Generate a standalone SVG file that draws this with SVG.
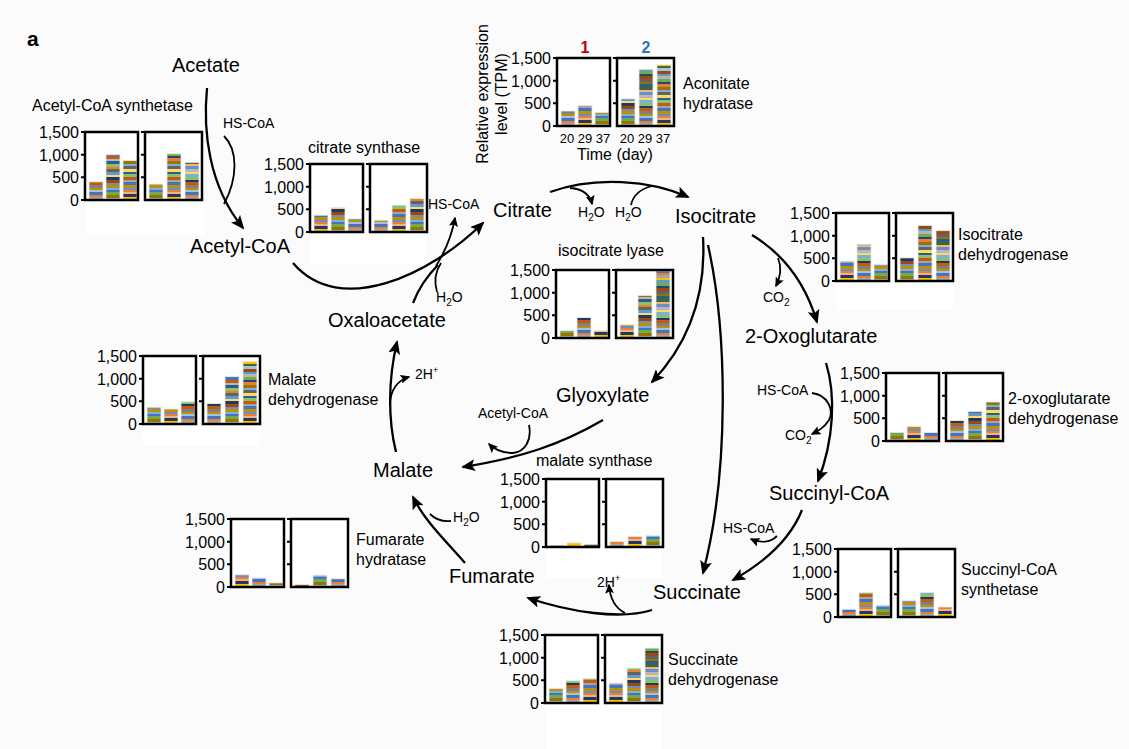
<svg xmlns="http://www.w3.org/2000/svg" xmlns:xlink="http://www.w3.org/1999/xlink" width="1129" height="749" viewBox="0 0 1129 749">
<style>
text{font-family:"Liberation Sans",Arial,sans-serif;fill:#000}
.m{font-size:20px}
.s{font-size:14px}
.l{font-size:16px}
.tk{font-size:16px;text-anchor:end}
.ax{font-size:13px;text-anchor:middle}
.panel{fill:none;stroke:#000;stroke-width:2.5}
.tick{fill:none;stroke:#000;stroke-width:2}
.wb{fill:#fff}
.a,.b,.c,.bar{stroke:#e8e8e8;stroke-width:0.8}
.a{fill:url(#pA)}.b{fill:url(#pB)}.c{fill:url(#pC)}
.cn{fill:none;stroke:#000;stroke-width:2.3}
.cm{marker-end:url(#ah)}
.cs{fill:none;stroke:#000;stroke-width:1.8}
.csm{marker-end:url(#ahs)}
</style>
<defs>
<marker id="ah" viewBox="0 0 14 12" refX="12" refY="6" markerWidth="14" markerHeight="12" markerUnits="userSpaceOnUse" orient="auto"><path d="M0,0 L14,6 L0,12 L3,6 z" fill="#000"/></marker>
<marker id="ahs" viewBox="0 0 10 9" refX="8.5" refY="4.5" markerWidth="10" markerHeight="9" markerUnits="userSpaceOnUse" orient="auto"><path d="M0,0 L10,4.5 L0,9 L2,4.5 z" fill="#000"/></marker>
<pattern id="pA" patternUnits="userSpaceOnUse" width="20" height="60">
<rect y="0" width="20" height="3" fill="#4472c4"/><rect y="3" width="20" height="2" fill="#ed7d31"/><rect y="5" width="20" height="3" fill="#a5a5a5"/><rect y="8" width="20" height="2" fill="#ffc000"/><rect y="10" width="20" height="3" fill="#5b9bd5"/><rect y="13" width="20" height="3" fill="#70ad47"/><rect y="16" width="20" height="2" fill="#264478"/><rect y="18" width="20" height="3" fill="#9e480e"/><rect y="21" width="20" height="3" fill="#636363"/><rect y="24" width="20" height="2" fill="#997300"/><rect y="26" width="20" height="3" fill="#255e91"/><rect y="29" width="20" height="3" fill="#43682b"/><rect y="32" width="20" height="2" fill="#f4b183"/><rect y="34" width="20" height="3" fill="#698ed0"/><rect y="37" width="20" height="3" fill="#b7b7b7"/><rect y="40" width="20" height="2" fill="#ffd966"/><rect y="42" width="20" height="3" fill="#7cafdd"/><rect y="45" width="20" height="3" fill="#8cc168"/><rect y="48" width="20" height="2" fill="#1f3864"/><rect y="50" width="20" height="3" fill="#c55a11"/><rect y="53" width="20" height="3" fill="#808080"/><rect y="56" width="20" height="2" fill="#bf9000"/><rect y="58" width="20" height="2" fill="#9dc3e6"/>
</pattern>
<pattern id="pB" patternUnits="userSpaceOnUse" width="20" height="60">
<rect y="0" width="20" height="3" fill="#70ad47"/><rect y="3" width="20" height="3" fill="#997300"/><rect y="6" width="20" height="2" fill="#9dc3e6"/><rect y="8" width="20" height="3" fill="#264478"/><rect y="11" width="20" height="2" fill="#f4b183"/><rect y="13" width="20" height="3" fill="#a5a5a5"/><rect y="16" width="20" height="3" fill="#43682b"/><rect y="19" width="20" height="2" fill="#ffc000"/><rect y="21" width="20" height="3" fill="#4472c4"/><rect y="24" width="20" height="3" fill="#c55a11"/><rect y="27" width="20" height="2" fill="#b7b7b7"/><rect y="29" width="20" height="3" fill="#255e91"/><rect y="32" width="20" height="3" fill="#8cc168"/><rect y="35" width="20" height="2" fill="#ed7d31"/><rect y="37" width="20" height="3" fill="#636363"/><rect y="40" width="20" height="3" fill="#5b9bd5"/><rect y="43" width="20" height="2" fill="#ffd966"/><rect y="45" width="20" height="3" fill="#1f3864"/><rect y="48" width="20" height="3" fill="#9e480e"/><rect y="51" width="20" height="2" fill="#698ed0"/><rect y="53" width="20" height="3" fill="#bf9000"/><rect y="56" width="20" height="2" fill="#7cafdd"/><rect y="58" width="20" height="2" fill="#4472c4"/>
</pattern>
<pattern id="pC" patternUnits="userSpaceOnUse" width="20" height="60">
<rect y="0" width="20" height="2" fill="#f4b183"/><rect y="2" width="20" height="3" fill="#1f3864"/><rect y="5" width="20" height="3" fill="#ffc000"/><rect y="8" width="20" height="2" fill="#43682b"/><rect y="10" width="20" height="3" fill="#9dc3e6"/><rect y="13" width="20" height="3" fill="#9e480e"/><rect y="16" width="20" height="2" fill="#5b9bd5"/><rect y="18" width="20" height="3" fill="#b7b7b7"/><rect y="21" width="20" height="3" fill="#70ad47"/><rect y="24" width="20" height="2" fill="#264478"/><rect y="26" width="20" height="3" fill="#ed7d31"/><rect y="29" width="20" height="3" fill="#997300"/><rect y="32" width="20" height="2" fill="#7cafdd"/><rect y="34" width="20" height="3" fill="#636363"/><rect y="37" width="20" height="3" fill="#ffd966"/><rect y="40" width="20" height="2" fill="#255e91"/><rect y="42" width="20" height="3" fill="#8cc168"/><rect y="45" width="20" height="3" fill="#c55a11"/><rect y="48" width="20" height="2" fill="#a5a5a5"/><rect y="50" width="20" height="3" fill="#4472c4"/><rect y="53" width="20" height="3" fill="#bf9000"/><rect y="56" width="20" height="2" fill="#698ed0"/><rect y="58" width="20" height="2" fill="#ed7d31"/>
</pattern>
<g id="frame">
<rect class="panel" x="0" y="0" width="53" height="68"/>
<rect class="panel" x="60" y="0" width="57" height="68"/>
<path class="tick" d="M-4,0H0M-4,22.67H0M-4,45.33H0M-4,68H0M56,0H60M56,22.67H60M56,45.33H60"/>
<text class="tk" x="-6" y="6">1,500</text>
<text class="tk" x="-6" y="28.7">1,000</text>
<text class="tk" x="-6" y="51.3">500</text>
<text class="tk" x="-6" y="74">0</text>
</g>
</defs>

<rect x="0" y="0" width="1129" height="749" fill="#fbfbfb"/>

<text x="27" y="46" style="font-size:21px;font-weight:bold">a</text>

<!-- Charts -->
<g id="chart-acetylcoa-synthetase">
<text class="l" x="32" y="111">Acetyl-CoA synthetase</text>
<g transform="translate(85,132)">
<rect class="wb" x="0" y="0" width="119" height="103"/>
<rect class="a" x="4" y="49.9" width="14" height="18.1"/>
<rect class="b" x="21" y="22.7" width="14" height="45.3"/>
<rect class="c" x="38" y="28.6" width="14" height="39.4"/>
<rect class="b" x="64" y="52.1" width="14" height="15.9"/>
<rect class="c" x="82" y="21.8" width="14" height="46.2"/>
<rect class="a" x="100" y="30.4" width="14" height="37.6"/>
<use href="#frame" xlink:href="#frame"/>
</g>
</g>

<g id="chart-citrate-synthase">
<text class="l" x="308" y="153">citrate synthase</text>
<g transform="translate(310,164)">
<rect class="wb" x="0" y="0" width="117" height="100"/>
<rect class="c" x="4" y="51.2" width="14" height="16.8"/>
<rect class="b" x="21" y="43.5" width="14" height="24.5"/>
<rect class="a" x="38" y="54.9" width="14" height="13.1"/>
<rect class="a" x="64" y="56.2" width="14" height="11.8"/>
<rect class="c" x="82" y="41.3" width="14" height="26.7"/>
<rect class="b" x="100" y="34.5" width="14" height="33.5"/>
<use href="#frame" xlink:href="#frame"/>
</g>
</g>

<g id="chart-aconitate-hydratase">
<text x="585" y="53" text-anchor="middle" style="font-size:16px;font-weight:bold;fill:#c00000">1</text>
<text x="646" y="53" text-anchor="middle" style="font-size:16px;font-weight:bold;fill:#2e75b6">2</text>
<text class="l" text-anchor="middle" transform="translate(488,94) rotate(-90)">Relative expression</text>
<text class="l" text-anchor="middle" transform="translate(507,94) rotate(-90)">level (TPM)</text>
<g transform="translate(557,58)">
<rect class="wb" x="0" y="0" width="117" height="68"/>
<rect class="a" x="4" y="53" width="14" height="15"/>
<rect class="c" x="21" y="47.6" width="14" height="20.4"/>
<rect class="b" x="38" y="54.4" width="14" height="13.6"/>
<rect class="b" x="64" y="40.8" width="14" height="27.2"/>
<rect class="a" x="82" y="11.3" width="14" height="56.7"/>
<rect class="c" x="100" y="6.8" width="14" height="61.2"/>
<use href="#frame" xlink:href="#frame"/>
<text class="ax" x="10" y="85">20</text>
<text class="ax" x="28" y="85">29</text>
<text class="ax" x="46" y="85">37</text>
<text class="ax" x="70" y="85">20</text>
<text class="ax" x="88" y="85">29</text>
<text class="ax" x="106" y="85">37</text>
</g>
<text class="l" x="577" y="160">Time (day)</text>
<text class="l" x="683" y="89">Aconitate</text>
<text class="l" x="683" y="109">hydratase</text>
</g>

<g id="chart-isocitrate-lyase">
<text class="l" x="558" y="256">isocitrate lyase</text>
<g transform="translate(556,270)">
<rect class="wb" x="0" y="0" width="117" height="68"/>
<rect class="b" x="4" y="60.7" width="14" height="7.3"/>
<rect class="a" x="21" y="47.6" width="14" height="20.4"/>
<rect class="c" x="38" y="60.7" width="14" height="7.3"/>
<rect class="c" x="64" y="54.9" width="14" height="13.1"/>
<rect class="b" x="82" y="25.4" width="14" height="42.6"/>
<rect class="a" x="100" y="0.9" width="14" height="67.1"/>
<use href="#frame" xlink:href="#frame"/>
</g>
</g>

<g id="chart-isocitrate-dehydrogenase">
<g transform="translate(836,213)">
<rect class="wb" x="0" y="0" width="117" height="97"/>
<rect class="c" x="4" y="48.1" width="14" height="19.9"/>
<rect class="a" x="21" y="31.3" width="14" height="36.7"/>
<rect class="b" x="38" y="51.7" width="14" height="16.3"/>
<rect class="b" x="64" y="44.9" width="14" height="23.1"/>
<rect class="c" x="82" y="12.2" width="14" height="55.8"/>
<rect class="a" x="100" y="17.7" width="14" height="50.3"/>
<use href="#frame" xlink:href="#frame"/>
</g>
<text class="l" x="958" y="240">Isocitrate</text>
<text class="l" x="958" y="260">dehydrogenase</text>
</g>

<g id="chart-malate-dehydrogenase">
<g transform="translate(143,356)">
<rect class="wb" x="0" y="0" width="117" height="90"/>
<rect class="b" x="4" y="51.2" width="14" height="16.8"/>
<rect class="c" x="21" y="53" width="14" height="15"/>
<rect class="a" x="38" y="45.8" width="14" height="22.2"/>
<rect class="a" x="64" y="47.6" width="14" height="20.4"/>
<rect class="b" x="82" y="20.4" width="14" height="47.6"/>
<rect class="c" x="100" y="5.4" width="14" height="62.6"/>
<use href="#frame" xlink:href="#frame"/>
</g>
<text class="l" x="268" y="385">Malate</text>
<text class="l" x="268" y="405">dehydrogenase</text>
</g>

<g id="chart-2-oxoglutarate-dehydrogenase">
<g transform="translate(886,373)">
<rect class="wb" x="0" y="0" width="117" height="68"/>
<rect class="b" x="4" y="59.4" width="14" height="8.6"/>
<rect class="c" x="21" y="53.5" width="14" height="14.5"/>
<rect class="a" x="38" y="59.4" width="14" height="8.6"/>
<rect class="a" x="64" y="47.6" width="14" height="20.4"/>
<rect class="b" x="82" y="38.5" width="14" height="29.5"/>
<rect class="c" x="100" y="29" width="14" height="39"/>
<use href="#frame" xlink:href="#frame"/>
</g>
<text class="l" x="1008" y="404">2-oxoglutarate</text>
<text class="l" x="1008" y="424">dehydrogenase</text>
</g>

<g id="chart-malate-synthase">
<text class="l" x="536" y="466">malate synthase</text>
<g transform="translate(546,479)">
<rect class="wb" x="0" y="0" width="117" height="99"/>
<rect class="bar" x="4" y="66.2" width="14" height="1.8" fill="#70ad47"/>
<rect class="bar" x="21" y="63.9" width="14" height="4.1" fill="#ffc000"/>
<rect class="bar" x="38" y="65.3" width="14" height="2.7" fill="#43682b"/>
<rect class="a" x="64" y="62.6" width="14" height="5.4"/>
<rect class="c" x="82" y="57.6" width="14" height="10.4"/>
<rect class="b" x="100" y="56.7" width="14" height="11.3"/>
<use href="#frame" xlink:href="#frame"/>
</g>
</g>

<g id="chart-fumarate-hydratase">
<g transform="translate(231,519)">
<rect class="wb" x="0" y="0" width="117" height="68"/>
<rect class="c" x="4" y="55.8" width="14" height="12.2"/>
<rect class="a" x="21" y="58.9" width="14" height="9.1"/>
<rect class="b" x="38" y="63.9" width="14" height="4.1"/>
<rect class="bar" x="64" y="65.7" width="14" height="2.3" fill="#9e480e"/>
<rect class="b" x="82" y="56.2" width="14" height="11.8"/>
<rect class="a" x="100" y="59.8" width="14" height="8.2"/>
<use href="#frame" xlink:href="#frame"/>
</g>
<text class="l" x="356" y="545">Fumarate</text>
<text class="l" x="356" y="565">hydratase</text>
</g>

<g id="chart-succinyl-coa-synthetase">
<g transform="translate(838,549)">
<rect class="wb" x="0" y="0" width="117" height="68"/>
<rect class="a" x="4" y="60.3" width="14" height="7.7"/>
<rect class="c" x="21" y="43.5" width="14" height="24.5"/>
<rect class="b" x="38" y="56.2" width="14" height="11.8"/>
<rect class="b" x="64" y="51.7" width="14" height="16.3"/>
<rect class="a" x="82" y="43.5" width="14" height="24.5"/>
<rect class="c" x="100" y="58" width="14" height="10"/>
<use href="#frame" xlink:href="#frame"/>
</g>
<text class="l" x="961" y="575">Succinyl-CoA</text>
<text class="l" x="961" y="595">synthetase</text>
</g>

<g id="chart-succinate-dehydrogenase">
<g transform="translate(545,635)">
<rect class="wb" x="0" y="0" width="117" height="114"/>
<rect class="b" x="4" y="53.5" width="14" height="14.5"/>
<rect class="a" x="21" y="45.8" width="14" height="22.2"/>
<rect class="c" x="38" y="43.5" width="14" height="24.5"/>
<rect class="c" x="64" y="48.1" width="14" height="19.9"/>
<rect class="b" x="82" y="33.1" width="14" height="34.9"/>
<rect class="a" x="100" y="13.1" width="14" height="54.9"/>
<use href="#frame" xlink:href="#frame"/>
</g>
<text class="l" x="668" y="665">Succinate</text>
<text class="l" x="668" y="685">dehydrogenase</text>
</g>

<!-- Metabolite nodes -->
<g id="acetate"><text class="m" x="172" y="72">Acetate</text></g>
<g id="acetyl-coa"><text class="m" x="190" y="253">Acetyl-CoA</text></g>
<g id="citrate"><text class="m" x="493" y="217">Citrate</text></g>
<g id="isocitrate"><text class="m" x="675" y="223">Isocitrate</text></g>
<g id="oxaloacetate"><text class="m" x="328" y="327">Oxaloacetate</text></g>
<g id="oxoglutarate"><text class="m" x="745" y="343">2-Oxoglutarate</text></g>
<g id="glyoxylate"><text class="m" x="556" y="402">Glyoxylate</text></g>
<g id="malate"><text class="m" x="373" y="477">Malate</text></g>
<g id="succinyl-coa"><text class="m" x="769" y="500">Succinyl-CoA</text></g>
<g id="fumarate"><text class="m" x="449" y="583">Fumarate</text></g>
<g id="succinate"><text class="m" x="653" y="599">Succinate</text></g>

<!-- Cofactor labels -->
<g id="cofactors">
<text class="s" x="223" y="128">HS-CoA</text>
<text class="s" x="428" y="209">HS-CoA</text>
<text class="s" x="578" y="217">H<tspan dy="4" font-size="10">2</tspan><tspan dy="-4">O</tspan></text>
<text class="s" x="615" y="217">H<tspan dy="4" font-size="10">2</tspan><tspan dy="-4">O</tspan></text>
<text class="s" x="436" y="302">H<tspan dy="4" font-size="10">2</tspan><tspan dy="-4">O</tspan></text>
<text class="s" x="763" y="302">CO<tspan dy="4" font-size="10">2</tspan></text>
<text class="s" x="757" y="395">HS-CoA</text>
<text class="s" x="785" y="440">CO<tspan dy="4" font-size="10">2</tspan></text>
<text class="s" x="723" y="533">HS-CoA</text>
<text class="s" x="478" y="418">Acetyl-CoA</text>
<text class="s" x="415" y="379">2H<tspan dy="-6" font-size="9">+</tspan></text>
<text class="s" x="453" y="522">H<tspan dy="4" font-size="10">2</tspan><tspan dy="-4">O</tspan></text>
<text class="s" x="597" y="587">2H<tspan dy="-6" font-size="9">+</tspan></text>
</g>

<!-- Connectors -->
<g id="connectors">
<path class="cn cm" d="M207,88 C203,130 208,185 243,228"/>
<path class="cs" d="M224,136 C238,150 238,178 224,204"/>
<path class="cn cm" d="M293,263 C340,318 430,275 483,223"/>
<path class="cn" d="M413,303 C418,290 426,277 438,265"/>
<path class="cs" d="M437,292 C434,282 435,272 441,263"/>
<path class="cs csm" d="M436,266 C446,250 452,235 455,218"/>
<path class="cn cm" d="M550,192 C595,176 650,180 688,197"/>
<path class="cs csm" d="M570,188 C583,189 590,195 592,204"/>
<path class="cs" d="M631,205 C633,196 640,189 652,186"/>
<path class="cn cm" d="M752,235 C785,255 806,285 817,322"/>
<path class="cs csm" d="M778,258 C782,268 780,278 776,286"/>
<path class="cn cm" d="M826,363 C836,395 834,440 818,481"/>
<path class="cs csm" d="M812,393 C828,395 834,410 829,420 C824,428 818,431 812,434"/>
<path class="cn cm" d="M802,510 C790,540 765,562 733,580"/>
<path class="cs csm" d="M777,536 C770,543 760,543 751,539"/>
<path class="cn cm" d="M703,237 C706,290 692,340 652,382"/>
<path class="cn cm" d="M708,245 C727,330 730,470 703,573"/>
<path class="cn cm" d="M603,420 C560,445 520,458 463,467"/>
<path class="cs csm" d="M529,425 C532,440 525,452 513,453 C504,453 495,450 489,444"/>
<path class="cn cm" d="M396,452 C388,420 388,380 397,342"/>
<path class="cs csm" d="M390,405 C390,390 398,380 409,377"/>
<path class="cn cm" d="M465,563 C445,540 424,520 413,497"/>
<path class="cs" d="M451,521 C442,522 436,520 430,514"/>
<path class="cn cm" d="M652,610 C620,620 570,612 528,598"/>
<path class="cs csm" d="M625,613 C615,608 610,598 609,585"/>
</g>
</svg>
